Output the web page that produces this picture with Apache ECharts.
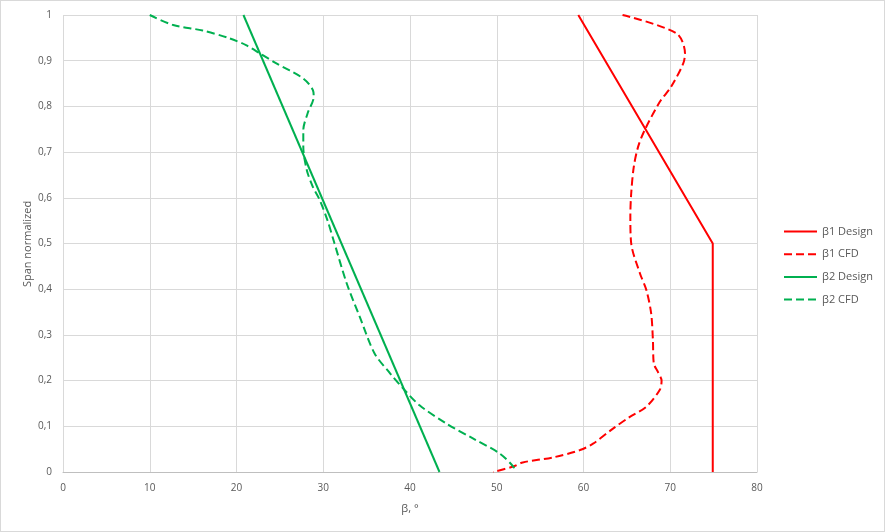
<!DOCTYPE html>
<html>
<head>
<meta charset="utf-8">
<script src="https://cdn.jsdelivr.net/npm/echarts@6/dist/echarts.min.js"></script>
<style>
html,body{margin:0;padding:0;background:#fff;}
#chart{position:absolute;left:0;top:0;width:883px;height:530px;border:1px solid #d9d9d9;}
</style>
</head>
<body>
<div id="chart"></div>
<script>
// ---- data ----
const seriesNames = ['β1 Design', 'β1 CFD', 'β2 Design', 'β2 CFD'];
const yAxisTitle = 'Span normalized';
const xAxisTitle = 'β, °';

const beta1DesignX = [59.4, 74.9, 74.9];
const beta1DesignY = [1.0, 0.5, 0.0];

const beta1CfdX = [64.5, 70.7, 71.7, 71.5, 70.1, 68.8, 67.05, 66.3, 65.8, 65.5, 65.4, 65.5, 66.5, 67.25, 67.8, 68.0, 68.1, 68.6, 69.0, 68.8, 67.25, 65.3, 63.4, 61.1, 59.6, 56.5, 53.0, 51.9, 49.6];
const beta1CfdY = [1.0, 0.96, 0.916, 0.894, 0.843, 0.81, 0.748, 0.712, 0.668, 0.61, 0.559, 0.5, 0.435, 0.398, 0.347, 0.289, 0.238, 0.218, 0.2, 0.18, 0.143, 0.12, 0.095, 0.062, 0.048, 0.032, 0.021, 0.012, 0.0];

const beta2DesignX = [20.8, 43.4];
const beta2DesignY = [1.0, 0.0];

const beta2CfdX = [10.0, 12.7, 16.1, 19.2, 21.1, 22.7, 24.6, 27.7, 28.8, 28.9, 28.2, 27.7, 27.7, 28.1, 28.8, 29.6, 30.5, 31.3, 32.7, 34.2, 35.9, 37.7, 39.2, 41.1, 44.2, 47.3, 50.3, 51.9, 52.1];
const beta2CfdY = [1.0, 0.978, 0.966, 0.949, 0.934, 0.916, 0.894, 0.861, 0.836, 0.821, 0.785, 0.748, 0.712, 0.661, 0.624, 0.595, 0.55, 0.5, 0.413, 0.34, 0.26, 0.216, 0.183, 0.146, 0.106, 0.073, 0.041, 0.012, 0.0];

const xTicks = {min: 0, max: 80, interval: 10};
const yTicks = {min: 0, max: 1, interval: 0.1};

// ---- build ----
function pairs(xs, ys) { return xs.map((x, i) => [x, ys[i]]); }
const RED = '#ff0000', GREEN = '#00b050';
const FONT = 'Open Sans';
const DASH = [8, 4];

const chart = echarts.init(document.getElementById('chart'), null, {renderer: 'canvas'});
chart.setOption({
  animation: false,
  backgroundColor: '#ffffff',
  textStyle: {fontFamily: FONT},
  grid: {left: 62, right: 127, top: 14, bottom: 59, containLabel: false},
  graphic: [{
    type: 'text', x: 27, y: 243, rotation: Math.PI / 2,
    style: {text: yAxisTitle, fill: '#595959', font: '11px "Open Sans"', align: 'center', verticalAlign: 'middle'}
  }],
  legend: {
    orient: 'vertical',
    left: 777, top: 220,
    itemWidth: 33, itemHeight: 12, itemGap: 11.7,
    itemStyle: {opacity: 0},
    textStyle: {color: '#595959', fontSize: 11, fontFamily: FONT},
    data: seriesNames
  },
  xAxis: {
    type: 'value', min: xTicks.min, max: xTicks.max, interval: xTicks.interval,
    name: xAxisTitle, nameLocation: 'middle', nameGap: 31,
    nameTextStyle: {color: '#595959', fontSize: 11, fontFamily: FONT},
    axisLine: {show: true, lineStyle: {color: '#bfbfbf', width: 1}},
    axisTick: {show: false},
    axisLabel: {color: '#595959', fontSize: 10, margin: 11, fontFamily: FONT},
    splitLine: {show: true, lineStyle: {color: '#d9d9d9', width: 1}}
  },
  yAxis: {
    type: 'value', min: yTicks.min, max: yTicks.max, interval: yTicks.interval,
    axisLine: {show: false},
    axisTick: {show: false},
    axisLabel: {color: '#595959', fontSize: 10, margin: 11, fontFamily: FONT,
      formatter: v => (Math.round(v * 10) / 10).toString().replace('.', ',')},
    splitLine: {show: true, lineStyle: {color: '#d9d9d9', width: 1}}
  },
  series: [
    {name: seriesNames[0], type: 'line', symbol: 'none', data: pairs(beta1DesignX, beta1DesignY),
     lineStyle: {color: RED, width: 2}, itemStyle: {color: RED}},
    {name: seriesNames[1], type: 'line', symbol: 'none', smooth: 0.3, data: pairs(beta1CfdX, beta1CfdY),
     lineStyle: {color: RED, width: 2, type: DASH}, itemStyle: {color: RED}},
    {name: seriesNames[2], type: 'line', symbol: 'none', data: pairs(beta2DesignX, beta2DesignY),
     lineStyle: {color: GREEN, width: 2}, itemStyle: {color: GREEN}},
    {name: seriesNames[3], type: 'line', symbol: 'none', smooth: 0.3, data: pairs(beta2CfdX, beta2CfdY),
     lineStyle: {color: GREEN, width: 2, type: DASH}, itemStyle: {color: GREEN}}
  ]
});
</script>
</body>
</html>
